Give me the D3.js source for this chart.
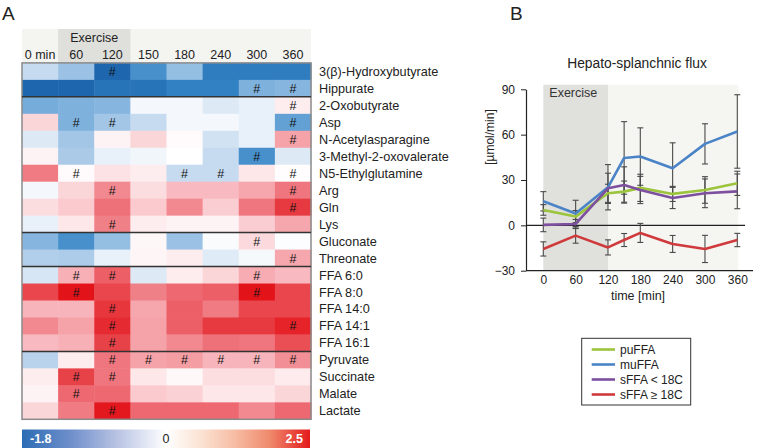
<!DOCTYPE html>
<html>
<head>
<meta charset="utf-8">
<script src="https://cdn.jsdelivr.net/npm/d3@7"></script>
<style>
  html, body { margin: 0; padding: 0; background: #fff; }
  svg { display: block; font-family: "Liberation Sans", Arial, sans-serif; }
</style>
</head>
<body>
<svg id="chart" width="777" height="448"></svg>
<script>
// ---------- Panel A data ----------
const timepoints = ["0 min", "60", "120", "150", "180", "240", "300", "360"];
const metabolites = ["3(β)-Hydroxybutyrate", "Hippurate", "2-Oxobutyrate", "Asp", "N-Acetylasparagine",
  "3-Methyl-2-oxovalerate", "N5-Ethylglutamine", "Arg", "Gln", "Lys", "Gluconate", "Threonate",
  "FFA 6:0", "FFA 8:0", "FFA 14:0", "FFA 14:1", "FFA 16:1", "Pyruvate", "Succinate", "Malate", "Lactate"];
const heatValues = [
  [-0.5, -0.8, -1.75, -1.3, -0.85, -1.5, -1.5, -1.5],
  [-1.75, -1.75, -1.6, -1.6, -1.45, -1.45, -1.0, -0.95],
  [-1.05, -1.0, -0.95, -0.1, -0.1, -0.3, -0.2, 0.15],
  [0.35, -1.0, -0.75, -0.5, -0.1, -0.1, -0.2, -1.15],
  [-0.3, -0.75, 0.1, 0.35, 0.03, -0.4, -0.2, 0.85],
  [0.1, -0.7, -0.2, -0.12, 0.0, -0.5, -1.3, -0.3],
  [1.25, 0.03, 0.25, 0.15, -0.5, -0.5, 0.2, 0.02],
  [-0.1, 0.35, 1.1, 0.3, 0.6, 0.6, 0.8, 1.3],
  [0.3, 0.45, 1.35, 0.45, 1.1, 0.42, 1.3, 2.0],
  [-0.2, 0.2, 1.2, 0.15, 0.1, 0.1, 0.42, 0.8],
  [-0.95, -1.3, -0.85, 0.07, -0.8, -0.05, 0.32, -0.03],
  [-0.65, -0.68, -0.2, 0.08, 0.15, -0.28, -0.08, 0.8],
  [-0.35, 0.7, 1.55, -0.3, 0.15, 0.35, 0.75, 0.6],
  [1.85, 2.5, 1.85, 1.2, 1.45, 1.55, 2.5, 1.85],
  [0.65, 0.65, 2.05, 0.8, 1.55, 1.25, 1.85, 1.85],
  [1.1, 0.85, 2.2, 0.85, 1.55, 2.0, 2.0, 2.3],
  [0.6, 0.7, 1.9, 0.85, 1.1, 1.35, 1.3, 1.75],
  [-0.6, 0.15, 1.3, 0.85, 0.9, 0.65, 0.65, 1.05],
  [0.15, 1.9, 1.3, 0.2, 0.06, 0.28, 0.28, 0.17],
  [0.1, 1.45, 1.45, 0.45, 0.38, 0.2, 0.2, 0.35],
  [0.35, 1.25, 2.45, 1.45, 1.45, 1.45, 1.1, 1.45]
];
// column indices carrying a "#" mark, per row
const sigMarks = [
  [2], [6, 7], [7], [1, 2, 7], [7], [6], [1, 4, 5, 7], [2, 7], [7], [2],
  [6], [7], [1, 2, 6], [1, 6], [2], [2, 7], [2], [2, 3, 4, 5, 6, 7], [1, 2], [1], [2]
];
const groupBreaks = [1, 9, 11, 16]; // separator after these rows
const exerciseCols = ["60", "120"];
const colorbarMin = -1.8, colorbarMax = 2.5;

// colour scale for cells
const cellDomain = [-1.8, -1.4, -1.0, -0.5, 0, 0.5, 1.0, 1.5, 2.0, 2.5];
const cellColors = ["#1b63ab", "#3585c6", "#7fb1dd", "#c6dbef", "#ffffff", "#f9c4c9", "#f3939a", "#ec636b", "#e73a40", "#e3131a"];
// colour bar gradient
const barStops = [0, 0.17, 0.33, 0.5, 0.62, 0.74, 0.86, 1];
const barColors = ["#2c6cb4", "#6f8fcb", "#b8c3e3", "#ffffff", "#fbe3d3", "#f7bca4", "#ef8a6c", "#e41a1c"];

// ---------- Panel B data ----------
const times = [0, 60, 120, 150, 180, 240, 300, 360];
const timeTicks = [0, 60, 120, 180, 240, 300, 360];
const fluxTicks = [-30, 0, 30, 60, 90];
const seriesNames = ["puFFA", "muFFA", "sFFA < 18C", "sFFA ≥ 18C"];
const seriesColors = ["#9cc43c", "#4a84c6", "#7d4f9e", "#cf3a3c"];
const puFFA = [10.2, 5.8, 21.2, 22.3, 24.8, 20.8, 23.4, 27.8];
const puFFAErr = [3.5, 4, 6, 7, 9, 5, 8.8, 8];
const muFFA = [15.9, 7.9, 25.2, 44.6, 45.5, 37.8, 53.9, 62.1];
const muFFAErr = [6.4, 8.7, 15, 24, 19, 16.8, 13.3, 24.3];
const sFFAlt18 = [0.3, 0.9, 24.5, 26.7, 23.4, 18.1, 21.2, 22.5];
const sFFAlt18Err = [4.5, 3, 10, 12, 9, 7, 9.5, 11.5];
const sFFAge18 = [-15.6, -6.8, -14.6, -9.7, -5.0, -12.3, -15.6, -9.7];
const sFFAge18Err = [4.7, 5, 5, 4.3, 6.3, 5.6, 9, 4.4];

const svg = d3.select("#chart");
const textCol = "#222";

// ================= Panel A =================
svg.append("text").attr("x", 2).attr("y", 20).attr("font-size", 19).attr("fill", textCol).text("A");

const xA = d3.scaleBand().domain(timepoints).range([22, 311]);
const yA = d3.scaleBand().domain(metabolites).range([62.9, 419.3]);
const cellColor = d3.scaleLinear().domain(cellDomain).range(cellColors).clamp(true);

const gA = svg.append("g");
// header backgrounds
gA.append("rect").attr("x", xA.range()[0]).attr("y", 29).attr("width", xA.range()[1] - xA.range()[0])
  .attr("height", yA.range()[0] - 29).attr("fill", "#f4f4f1");
gA.append("rect").attr("x", xA(exerciseCols[0])).attr("y", 29)
  .attr("width", xA(exerciseCols[1]) + xA.bandwidth() - xA(exerciseCols[0]))
  .attr("height", yA.range()[0] - 29).attr("fill", "#dfdfdb");
gA.append("text").attr("x", xA(exerciseCols[0]) + xA.bandwidth()).attr("y", 42)
  .attr("text-anchor", "middle").attr("font-size", 12.5).attr("fill", textCol).text("Exercise");
gA.selectAll("text.col").data(timepoints).join("text").attr("class", "col")
  .attr("x", d => xA(d) + xA.bandwidth() / 2).attr("y", 58.5)
  .attr("text-anchor", "middle").attr("font-size", 12.5).attr("fill", textCol).text(d => d);

// cells
const cells = [];
heatValues.forEach((row, i) => row.forEach((v, j) => cells.push({ r: metabolites[i], c: timepoints[j], v, sig: sigMarks[i].includes(j) })));
gA.selectAll("rect.cell").data(cells).join("rect").attr("class", "cell")
  .attr("x", d => xA(d.c)).attr("y", d => yA(d.r))
  .attr("width", xA.bandwidth() + 0.5).attr("height", yA.bandwidth() + 0.5)
  .attr("fill", d => cellColor(d.v));
gA.selectAll("text.sig").data(cells.filter(d => d.sig)).join("text").attr("class", "sig")
  .attr("x", d => xA(d.c) + xA.bandwidth() / 2).attr("y", d => yA(d.r) + yA.bandwidth() / 2 + 4.5)
  .attr("text-anchor", "middle").attr("font-size", 12.5).attr("fill", "#111").text("#");

// border and separators
gA.append("rect").attr("x", xA.range()[0]).attr("y", yA.range()[0])
  .attr("width", xA.range()[1] - xA.range()[0]).attr("height", yA.range()[1] - yA.range()[0])
  .attr("fill", "none").attr("stroke", "#8a8a8a").attr("stroke-width", 1.5);
gA.selectAll("line.sep").data(groupBreaks).join("line").attr("class", "sep")
  .attr("x1", xA.range()[0]).attr("x2", xA.range()[1])
  .attr("y1", d => yA(metabolites[d]) + yA.bandwidth()).attr("y2", d => yA(metabolites[d]) + yA.bandwidth())
  .attr("stroke", "#333").attr("stroke-width", 1.5);

// row labels
gA.selectAll("text.row").data(metabolites).join("text").attr("class", "row")
  .attr("x", 319).attr("y", d => yA(d) + yA.bandwidth() / 2 + 4.5)
  .attr("font-size", 12.7).attr("fill", textCol).text(d => d);

// colour bar
const defs = svg.append("defs");
const grad = defs.append("linearGradient").attr("id", "cbar").attr("x1", "0%").attr("x2", "100%");
grad.selectAll("stop").data(barStops).join("stop")
  .attr("offset", d => (d * 100) + "%").attr("stop-color", (d, i) => barColors[i]);
gA.append("rect").attr("x", 22).attr("y", 429.5).attr("width", 288).attr("height", 20).attr("fill", "url(#cbar)");
gA.append("text").attr("x", 30).attr("y", 443).attr("font-size", 12.5).attr("font-weight", "bold")
  .attr("fill", "#fff").text(colorbarMin.toFixed(1));
gA.append("text").attr("x", 166).attr("y", 443).attr("text-anchor", "middle").attr("font-size", 12.5)
  .attr("fill", textCol).text("0");
gA.append("text").attr("x", 303).attr("y", 443).attr("text-anchor", "end").attr("font-size", 12.5).attr("font-weight", "bold")
  .attr("fill", "#fff").text(colorbarMax.toFixed(1));

// ================= Panel B =================
svg.append("text").attr("x", 510).attr("y", 20).attr("font-size", 19).attr("fill", textCol).text("B");

const xB = d3.scaleLinear().domain([0, 360]).range([543.3, 737.3]);
const yB = d3.scaleLinear().domain([-30, 90]).range([270.7, 89.3]);
const axisX0 = 526;
const gB = svg.append("g");

gB.append("text").attr("x", 637).attr("y", 67.5).attr("text-anchor", "middle").attr("font-size", 13.8)
  .attr("fill", textCol).text("Hepato-splanchnic flux");

// shading
gB.append("rect").attr("x", xB(120)).attr("y", yB(93)).attr("width", xB(360) + 1 - xB(120))
  .attr("height", yB(-30) - yB(93)).attr("fill", "#f5f5f2");
gB.append("rect").attr("x", xB(0)).attr("y", yB(93)).attr("width", xB(120) - xB(0))
  .attr("height", yB(-30) - yB(93)).attr("fill", "#e0e0dc");
gB.append("text").attr("x", xB(0) + 6).attr("y", 97.3).attr("font-size", 12.5).attr("fill", "#333").text("Exercise");

// y axis
const yAxis = d3.axisLeft(yB).tickValues(fluxTicks).tickSize(5).tickSizeOuter(0).tickPadding(6);
const gy = gB.append("g").attr("transform", `translate(${axisX0},0)`).call(yAxis);
gy.select(".domain").attr("stroke", "#222").attr("stroke-width", 1.2);
gy.selectAll(".tick line").attr("stroke", "#222");
gy.selectAll(".tick text").attr("font-size", 12).attr("fill", textCol).attr("font-family", "Liberation Sans, Arial, sans-serif");

// x axis
const xAxis = d3.axisBottom(xB).tickValues(timeTicks).tickSize(0).tickPadding(5);
const gx = gB.append("g").attr("transform", `translate(0,${yB(-30)})`).call(xAxis);
gx.select(".domain").remove();
gx.selectAll(".tick text").attr("font-size", 12).attr("fill", textCol).attr("font-family", "Liberation Sans, Arial, sans-serif");
gB.append("line").attr("x1", axisX0).attr("x2", 753).attr("y1", yB(-30)).attr("y2", yB(-30))
  .attr("stroke", "#222").attr("stroke-width", 1.2);
gB.append("line").attr("x1", axisX0).attr("x2", 745).attr("y1", yB(0)).attr("y2", yB(0))
  .attr("stroke", "#222").attr("stroke-width", 1.2);

gB.append("text").attr("x", 638).attr("y", 300).attr("text-anchor", "middle").attr("font-size", 12.5)
  .attr("fill", textCol).text("time [min]");
gB.append("text").attr("transform", "translate(494,137) rotate(-90)").attr("text-anchor", "middle")
  .attr("font-size", 12).attr("fill", textCol).text("[µmol/min]");

// series
const seriesVals = [puFFA, muFFA, sFFAlt18, sFFAge18];
const seriesErrs = [puFFAErr, muFFAErr, sFFAlt18Err, sFFAge18Err];
const capW = 3;
seriesVals.forEach((vals, s) => {
  const pts = times.map((t, i) => ({ t, v: vals[i], e: seriesErrs[s][i] }));
  const eg = gB.append("g").attr("stroke", "#4a4a4a").attr("stroke-width", 1.1);
  pts.forEach(p => {
    eg.append("line").attr("x1", xB(p.t)).attr("x2", xB(p.t)).attr("y1", yB(p.v - p.e)).attr("y2", yB(p.v + p.e));
    eg.append("line").attr("x1", xB(p.t) - capW).attr("x2", xB(p.t) + capW).attr("y1", yB(p.v + p.e)).attr("y2", yB(p.v + p.e));
    eg.append("line").attr("x1", xB(p.t) - capW).attr("x2", xB(p.t) + capW).attr("y1", yB(p.v - p.e)).attr("y2", yB(p.v - p.e));
  });
});
const line = d3.line().x(d => xB(d.t)).y(d => yB(d.v));
seriesVals.forEach((vals, s) => {
  const pts = times.map((t, i) => ({ t, v: vals[i] }));
  gB.append("path").datum(pts).attr("d", line).attr("fill", "none")
    .attr("stroke", seriesColors[s]).attr("stroke-width", 2.6).attr("stroke-linejoin", "round");
});

// legend
const lg = gB.append("g");
lg.append("rect").attr("x", 581.7).attr("y", 338.3).attr("width", 109).attr("height", 66.7)
  .attr("fill", "#fff").attr("stroke", "#333").attr("stroke-width", 1);
seriesNames.forEach((n, i) => {
  const cy = 349.5 + i * 15;
  lg.append("line").attr("x1", 591.7).attr("x2", 615).attr("y1", cy).attr("y2", cy)
    .attr("stroke", seriesColors[i]).attr("stroke-width", 2.6);
  lg.append("text").attr("x", 620).attr("y", cy + 4.3).attr("font-size", 12).attr("fill", textCol).text(n);
});
</script>
</body>
</html>
